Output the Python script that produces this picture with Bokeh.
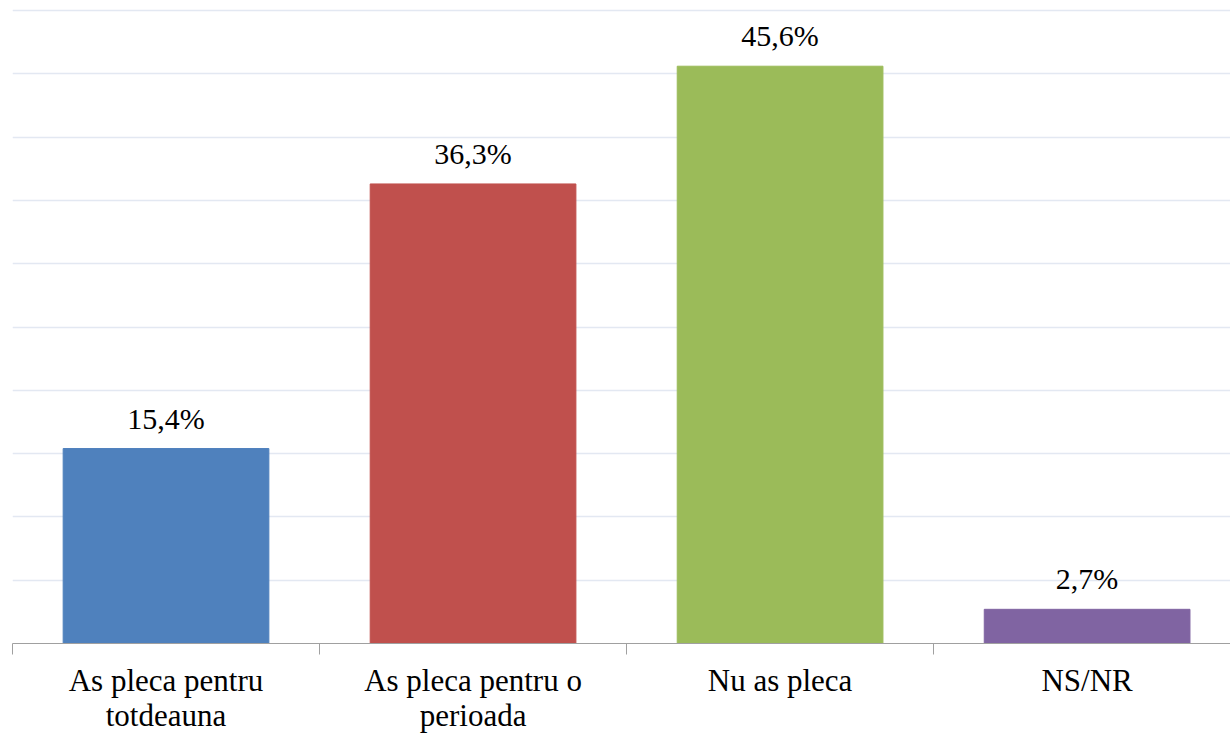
from bokeh.plotting import figure
from bokeh.models import Range1d, FixedTicker, ColumnDataSource, LabelSet
from bokeh.embed import file_html
from bokeh.resources import INLINE

categories = ["As pleca pentru\ntotdeauna", "As pleca pentru o\nperioada", "Nu as pleca", "NS/NR"]
values = [15.4, 36.3, 45.6, 2.7]
colors = ["#4F81BD", "#C0504D", "#9BBB59", "#8064A2"]
grid_ticks = [0, 5, 10, 15, 20, 25, 30, 35, 40, 45, 50]

xs = list(range(len(categories)))
labels = [("%.1f" % v).replace(".", ",") + "%" for v in values]
src = ColumnDataSource(dict(x=xs, top=values, color=colors, label=labels))

p = figure(width=1230, height=735, output_backend="svg", toolbar_location=None,
           x_range=Range1d(-0.5, 3.467), y_range=Range1d(0, 50.79),
           y_axis_location=None, min_border_left=12, min_border_right=0,
           min_border_top=0, min_border_bottom=91)
p.outline_line_color = None
p.xgrid.visible = False
p.ygrid.ticker = FixedTicker(ticks=grid_ticks)
p.ygrid.grid_line_color = "#e3e8f2"
p.ygrid.grid_line_width = 1.5

p.vbar(x="x", top="top", width=0.67, color="color", source=src)
p.add_layout(LabelSet(x="x", y="top", text="label", source=src, text_align="center",
                      text_baseline="alphabetic", y_offset=20,
                      text_font="Times New Roman", text_font_size="30px", text_color="#000000"))

ax = p.xaxis[0]
ax.ticker = FixedTicker(ticks=xs, minor_ticks=[-0.5, 0.5, 1.5, 2.5, 3.5])
ax.major_label_overrides = {i: c for i, c in zip(xs, categories)}
ax.major_tick_out = 0
ax.major_tick_in = 0
ax.minor_tick_out = 11
ax.minor_tick_in = 0
ax.minor_tick_line_color = "#a0a0a0"
ax.axis_line_color = "#a0a0a0"
ax.major_label_text_font = "Times New Roman"
ax.major_label_text_font_size = "31px"
ax.major_label_text_line_height = 1.0
ax.major_label_text_color = "#000000"
ax.major_label_standoff = 8

open("out.html", "w").write(file_html(p, INLINE))
